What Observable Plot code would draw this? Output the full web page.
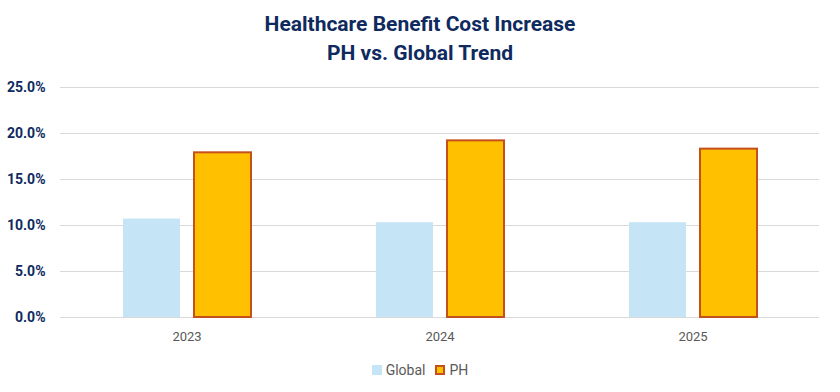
<!DOCTYPE html>
<html>
<head>
<meta charset="utf-8">
<script src="https://cdn.jsdelivr.net/npm/d3@7"></script>
<script src="https://cdn.jsdelivr.net/npm/@observablehq/plot@0.6"></script>
<style>
  html, body { margin: 0; padding: 0; background: #fff; }
  body { width: 840px; height: 392px; overflow: hidden; font-family: Roboto, "Liberation Sans", sans-serif; }
  #title { text-align: center; color: #0e2a5e; font-weight: bold; font-size: 21px; line-height: 29px; padding-top: 10px; height: 62px; box-sizing: content-box; }
  #legend { display: flex; justify-content: center; align-items: center; gap: 10px; font-size: 14px; color: #595959; margin-top: 10px; }
  .item { display: flex; align-items: center; gap: 4px; }
  .sw { width: 10px; height: 10px; box-sizing: border-box; display: inline-block; }
</style>
</head>
<body>
<div id="title">Healthcare Benefit Cost Increase<br>PH vs. Global Trend</div>
<div id="chart"></div>
<div id="legend"></div>
<script>
const years = ["2023", "2024", "2025"];
const series = ["Global", "PH"];
const globalValues = [10.7, 10.3, 10.3];
const phValues = [17.9, 19.2, 18.3];
const yTicks = [0, 5, 10, 15, 20, 25];

const fillColors = {Global: "#c5e4f5", PH: "#ffc000"};
const strokeColors = {Global: "none", PH: "#c4511b"};

const data = years.flatMap((y, i) => [
  {year: y, series: "Global", value: globalValues[i] / 100},
  {year: y, series: "PH", value: phValues[i] / 100}
]);
const tickVals = yTicks.map(t => t / 100);

const chart = Plot.plot({
  width: 840,
  height: 280,
  marginTop: 15,
  marginLeft: 60,
  marginRight: 21,
  marginBottom: 35,
  style: {fontFamily: "Roboto, 'Liberation Sans', sans-serif", background: "#fff"},
  fx: {domain: years, padding: 0, label: null},
  x: {domain: series, paddingInner: 0.2, paddingOuter: 0.86, axis: null},
  y: {domain: [0, 0.25], label: null, axis: null},
  marks: [
    Plot.gridY(tickVals, {stroke: "#d9d9d9", strokeOpacity: 1, strokeWidth: 1}),
    Plot.axisY(tickVals, {
      tickSize: 0, tickPadding: 15, label: null,
      tickFormat: d => (d * 100).toFixed(1) + "%",
      fontWeight: "bold", fontSize: 14, fill: "#0e2a5e"
    }),
    Plot.barY(data, {
      fx: "year", x: "series", y: "value",
      fill: d => fillColors[d.series],
      stroke: d => strokeColors[d.series],
      strokeWidth: 2
    }),
    Plot.axisFx({anchor: "bottom", tickSize: 0, tickPadding: 14, label: null, fontSize: 13, fill: "#595959"})
  ]
});
document.getElementById("chart").appendChild(chart);

const legend = document.getElementById("legend");
series.forEach(s => {
  const item = document.createElement("div");
  item.className = "item";
  const sw = document.createElement("span");
  sw.className = "sw";
  sw.style.background = fillColors[s];
  if (strokeColors[s] !== "none") sw.style.border = "2px solid " + strokeColors[s];
  const t = document.createElement("span");
  t.textContent = s;
  item.appendChild(sw);
  item.appendChild(t);
  legend.appendChild(item);
});
</script>
</body>
</html>
